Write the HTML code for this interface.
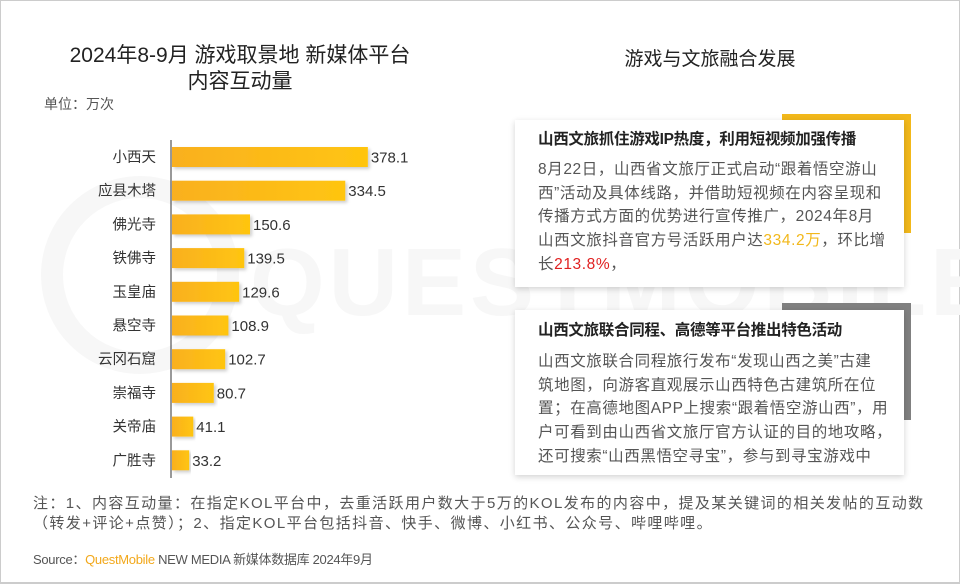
<!DOCTYPE html>
<html><head><meta charset="utf-8">
<style>
*{margin:0;padding:0;box-sizing:border-box}
body{width:960px;height:584px;background:#fff;position:relative;overflow:hidden;font-family:"Liberation Sans","Noto Sans CJK SC",sans-serif;color:#333}
.frame{position:absolute;left:0;top:0;width:960px;height:584px;border:1px solid #ccc;border-bottom:2px solid #ccc}
.t{position:absolute;white-space:nowrap}
.card{position:absolute;background:#fff;box-shadow:0 2px 6px rgba(0,0,0,0.18)}
.card .h{position:absolute;left:23px;font-weight:bold;font-size:15.5px;color:#222;letter-spacing:-0.3px}
.card .p{position:absolute;left:23px;width:360px;font-size:15.5px;line-height:23.7px;color:#555;white-space:nowrap;letter-spacing:0.6px}
</style></head><body>
<div class="frame"></div>
<svg class="t" style="left:0;top:0" width="960" height="584">
<circle cx="140" cy="275" r="88" fill="none" stroke="#f7f7f7" stroke-width="22"/>
<text x="250" y="315" font-family="Liberation Sans" font-weight="bold" font-size="96" fill="#f7f7f7" letter-spacing="4">QUESTMOBILE</text>
</svg>
<div class="t" style="left:0;width:480px;top:43px;text-align:center;font-size:21px;line-height:26px;color:#222">2024年8-9月 游戏取景地 新媒体平台<br>内容互动量</div>
<div class="t" style="left:44px;top:94px;font-size:14px;color:#555">单位：万次</div>
<div class="t" style="left:0;width:960px;top:44px;text-align:center;padding-left:460px;font-size:19px;color:#222">游戏与文旅融合发展</div>

<svg id="chart" class="t" style="left:0;top:0" width="480" height="584">
<defs><linearGradient id="g" x1="0" x2="1"><stop offset="0" stop-color="#f9b020"/><stop offset="1" stop-color="#ffc510"/></linearGradient>
<filter id="s" x="-5%" y="-20%" width="115%" height="160%"><feDropShadow dx="2" dy="2" stdDeviation="1.5" flood-color="#000" flood-opacity="0.2"/></filter></defs>
</svg>
<script>
const categories=["小西天","应县木塔","佛光寺","铁佛寺","玉皇庙","悬空寺","云冈石窟","崇福寺","关帝庙","广胜寺"];
const values=[378.1,334.5,150.6,139.5,129.6,108.9,102.7,80.7,41.1,33.2];
const labels=["378.1","334.5","150.6","139.5","129.6","108.9","102.7","80.7","41.1","33.2"];
const svg=document.getElementById('chart');
const NS='http://www.w3.org/2000/svg';
const x0=172, xScale=v=>x0+v*0.518;
const yC=i=>157+i*33.7;
const ax=document.createElementNS(NS,'line');
ax.setAttribute('x1',171);ax.setAttribute('x2',171);ax.setAttribute('y1',140);ax.setAttribute('y2',478);
ax.setAttribute('stroke','#333');ax.setAttribute('stroke-width','1');


svg.appendChild(ax);
categories.forEach((c,i)=>{
 const r=document.createElementNS(NS,'rect');
 r.setAttribute('x',x0);r.setAttribute('y',yC(i)-10);r.setAttribute('width',xScale(values[i])-x0);r.setAttribute('height',20);
 r.setAttribute('fill','url(#g)');r.setAttribute('filter','url(#s)');
 
 
 svg.appendChild(r);
 const t=document.createElementNS(NS,'text');
 t.setAttribute('x',156);t.setAttribute('y',yC(i)+5);t.setAttribute('text-anchor','end');
 t.setAttribute('font-size','14.5');t.setAttribute('fill','#333');t.textContent=c;
 
 
 svg.appendChild(t);
 const v=document.createElementNS(NS,'text');
 v.setAttribute('x',xScale(values[i])+3);v.setAttribute('y',yC(i)+5.5);
 v.setAttribute('font-size','15');v.setAttribute('fill','#333');v.textContent=labels[i];
 
 
 svg.appendChild(v);
});
</script>

<div class="t" style="left:782px;top:114px;width:129px;height:119px;border-top:7px solid #f2b81b;border-right:7px solid #f2b81b"></div>
<div class="card" style="left:515px;top:120px;width:389px;height:167px">
<div class="h" style="top:7px">山西文旅抓住游戏IP热度，利用短视频加强传播</div>
<div class="p" style="top:38px">8月22日，山西省文旅厅正式启动“跟着悟空游山<br>西”活动及具体线路，并借助短视频在内容呈现和<br>传播方式方面的优势进行宣传推广，2024年8月<br>山西文旅抖音官方号活跃用户达<span style="color:#f2b81b">334.2万</span>，环比增<br>长<span style="color:#e02020">213.8%</span>，</div>
</div>

<div class="t" style="left:782px;top:303px;width:129px;height:117px;border-top:7px solid #808080;border-right:7px solid #808080"></div>
<div class="card" style="left:515px;top:310px;width:389px;height:165px">
<div class="h" style="top:8px">山西文旅联合同程、高德等平台推出特色活动</div>
<div class="p" style="top:40px">山西文旅联合同程旅行发布“发现山西之美”古建<br>筑地图，向游客直观展示山西特色古建筑所在位<br>置；在高德地图APP上搜索“跟着悟空游山西”，用<br>户可看到由山西省文旅厅官方认证的目的地攻略，<br>还可搜索“山西黑悟空寻宝”，参与到寻宝游戏中</div>
</div>

<div class="t" style="left:33px;top:494px;font-size:15px;line-height:20px;color:#555;letter-spacing:1.4px">注：1、内容互动量：在指定KOL平台中，去重活跃用户数大于5万的KOL发布的内容中，提及某关键词的相关发帖的互动数<br>（转发+评论+点赞）；2、指定KOL平台包括抖音、快手、微博、小红书、公众号、哔哩哔哩。</div>
<div class="t" style="left:33px;top:549px;font-size:13px;color:#555;letter-spacing:-0.3px">Source：<span style="color:#f2a81b">QuestMobile</span> NEW MEDIA 新媒体数据库 2024年9月</div>
</body></html>
